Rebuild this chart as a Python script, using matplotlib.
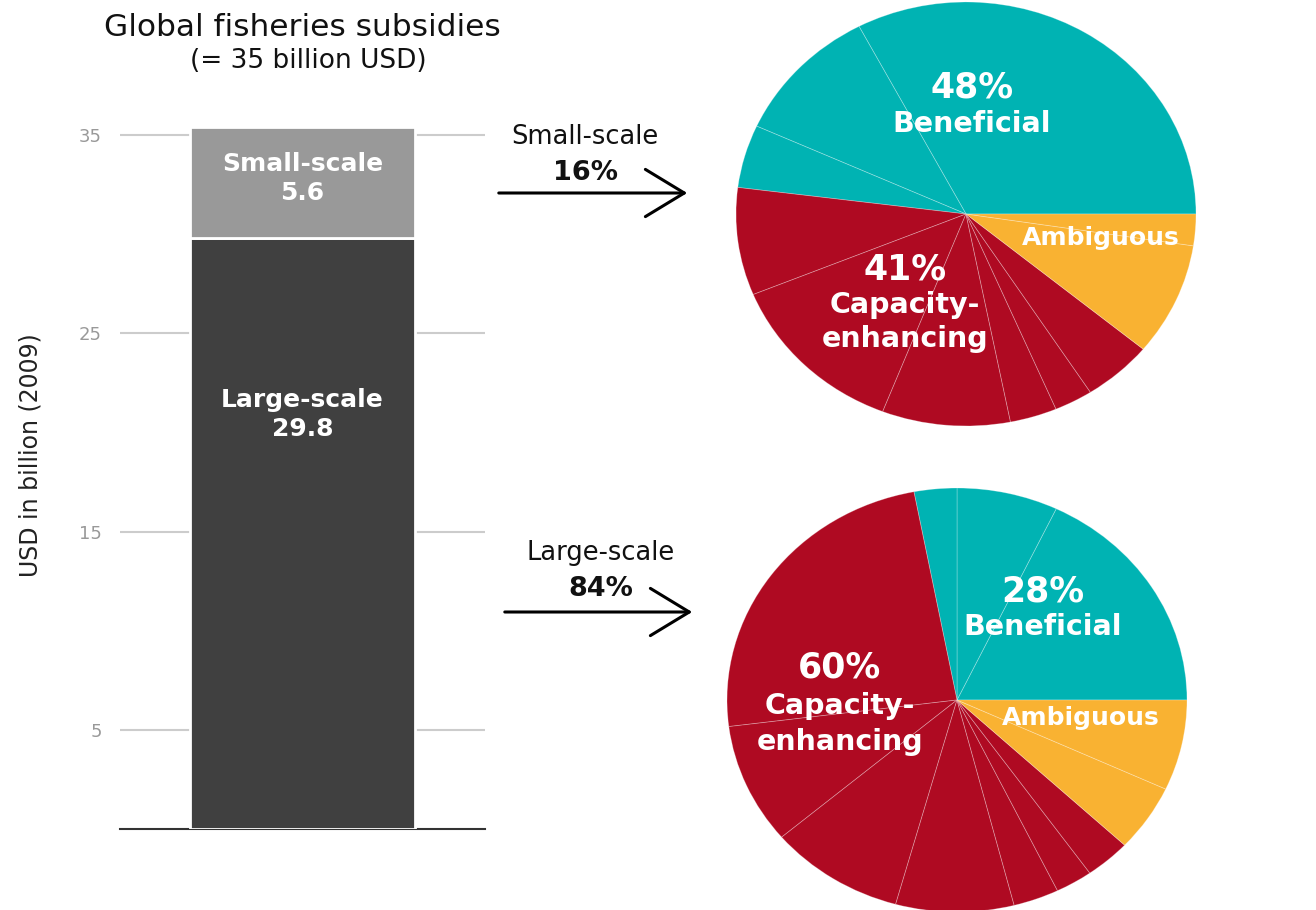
import matplotlib.pyplot as plt
from matplotlib.patches import FancyArrowPatch

# bar data (billion USD, 2009)
segments = ["Large-scale", "Small-scale"]
seg_values = [29.8, 5.6]
seg_colors = ["#404040", "#999999"]
yticks = [5, 15, 25, 35]

# pie data: sub-slices in percent, counter-clockwise from 3 o'clock
small_ben = [32.7, 10.5, 4.8]
small_cap = [8.2, 12.9, 9.0, 3.3, 2.7, 4.9]
small_amb = [8.6, 2.4]
large_ben = [17.9, 7.1, 3.0]
large_cap = [24.0, 9.2, 9.5, 8.3, 3.2, 2.6, 3.2]
large_amb = [5.1, 6.9]
shares = {"Small-scale": 16, "Large-scale": 84}

teal = "#00B3B3"
red = "#AF0A22"
yellow = "#F9B232"

W, H = 1316, 910
fig = plt.figure(figsize=(W / 100, H / 100), dpi=100)
plt.rcParams['font.family'] = ['DejaVu Sans']

# ---- stacked bar ----
ax = fig.add_axes([120 / W, 1 - 829 / H, 365 / W, (829 - 127) / H])
bottom = 0
for v, c in zip(seg_values, seg_colors):
    ax.bar(0.5, v, width=0.614, bottom=bottom, color=c, edgecolor="white", linewidth=2, zorder=3)
    bottom += v
ax.set_xlim(0, 1)
ax.set_ylim(0, sum(seg_values))
ax.set_yticks(yticks)
ax.set_yticklabels([str(t) for t in yticks], color="#999999", fontsize=13)
ax.tick_params(axis="y", length=0, pad=13)
ax.set_xticks([])
for y in yticks:
    ax.axhline(y, color="#cccccc", lw=1.5, zorder=1)
for s in ["top", "right", "left"]:
    ax.spines[s].set_visible(False)
ax.spines["bottom"].set_color("#333333")
ax.spines["bottom"].set_linewidth(1.5)
ax.set_ylabel("USD in billion (2009)", fontsize=17, color="#222222")
ax.yaxis.set_label_coords(-77 / 365, (829 - 455) / (829 - 127))

ax.text(0.5, seg_values[0] + seg_values[1] / 2 + 0.2, "Small-scale\n%.1f" % seg_values[1],
        ha="center", va="center", color="white", fontsize=18, fontweight="bold", linespacing=1.3, zorder=4)
ax.text(0.5, 20.9, "Large-scale\n%.1f" % seg_values[0],
        ha="center", va="center", color="white", fontsize=18, fontweight="bold", linespacing=1.3, zorder=4)

fig.text(302 / W, 1 - 27 / H, "Global fisheries subsidies", ha="center", va="center", fontsize=22.5, color="#111111")
fig.text(308 / W, 1 - 61 / H, "(= 35 billion USD)", ha="center", va="center", fontsize=19, color="#111111")

# ---- arrows ----
def arrow(x0, x1, y, name, tx, ty):
    fig.add_artist(FancyArrowPatch(
        (x0 / W, 1 - y / H), (x1 / W, 1 - y / H), transform=fig.transFigure,
        arrowstyle="->,head_length=1.4,head_width=0.85", mutation_scale=20, lw=2.2, color="black"))
    fig.text(tx / W, 1 - ty / H, name, ha="center", va="center", fontsize=18.5, color="#111111")
    fig.text(tx / W, 1 - (ty + 36) / H, "%d%%" % shares[name], ha="center", va="center",
             fontsize=19.5, fontweight="bold", color="#111111")

arrow(496, 690, 193, "Small-scale", 585, 137)
arrow(502, 695, 612, "Large-scale", 601, 553)

# ---- pies ----
def pie(box, ben, cap, amb, labels):
    pax = fig.add_axes(box)
    vals = ben + cap + amb
    cols = [teal] * len(ben) + [red] * len(cap) + [yellow] * len(amb)
    pax.pie(vals, colors=cols, startangle=0, counterclock=True,
            wedgeprops=dict(edgecolor=(1, 1, 1, 0.3), linewidth=0.6))
    pax.set_aspect("auto")
    pax.set_xlim(-1, 1)
    pax.set_ylim(-1, 1)
    pax.axis("off")
    for x, y, s, fs in labels:
        pax.text(x, y, s, ha="center", va="center", color="white", fontsize=fs, fontweight="bold")

def to_data(px, py, cx, cy, rx=230, ry=212):
    return (px - cx) / rx, (cy - py) / ry

cx, cy = 966, 214
lab_top = [
    (*to_data(972, 88, cx, cy), "%d%%" % round(sum(small_ben)), 25),
    (*to_data(972, 124, cx, cy), "Beneficial", 20.5),
    (*to_data(1101, 238, cx, cy), "Ambiguous", 18),
    (*to_data(905, 270, cx, cy), "%d%%" % round(sum(small_cap)), 25),
    (*to_data(905, 305, cx, cy), "Capacity-", 20.5),
    (*to_data(905, 339, cx, cy), "enhancing", 20.5),
]
pie([(cx - 230) / W, 1 - (cy + 212) / H, 460 / W, 424 / H], small_ben, small_cap, small_amb, lab_top)

cx, cy = 957, 700
lab_bot = [
    (*to_data(1043, 592, cx, cy), "%d%%" % round(sum(large_ben)), 25),
    (*to_data(1043, 627, cx, cy), "Beneficial", 20.5),
    (*to_data(1081, 718, cx, cy), "Ambiguous", 18),
    (*to_data(840, 667, cx, cy), "%d%%" % round(sum(large_cap)), 25),
    (*to_data(840, 706, cx, cy), "Capacity-", 20.5),
    (*to_data(840, 742, cx, cy), "enhancing", 20.5),
]
pie([(cx - 230) / W, 1 - (cy + 212) / H, 460 / W, 424 / H], large_ben, large_cap, large_amb, lab_bot)

fig.savefig("out.png", dpi=100)
